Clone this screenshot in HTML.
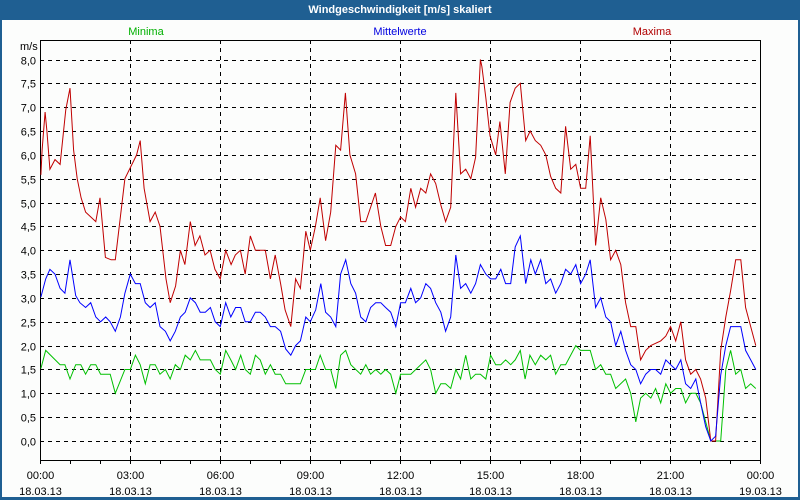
<!DOCTYPE html>
<html><head><meta charset="utf-8">
<style>
html,body{margin:0;padding:0;background:#1f5f92;}
#win{position:relative;width:800px;height:500px;background:#1f5f92;overflow:hidden;font-family:"Liberation Sans",sans-serif;}
#body{position:absolute;left:2px;top:20px;width:796px;height:477px;background:#fcfdfc;}
#title{position:absolute;left:0;top:0;width:800px;height:20px;line-height:20px;text-align:center;color:#fff;font-weight:bold;font-size:11px;}
svg{position:absolute;left:0;top:0;}
text{font-family:"Liberation Sans",sans-serif;font-size:11px;}
</style></head><body>
<div id="win">
<div id="title">Windgeschwindigkeit [m/s] skaliert</div>
<div id="body"></div>
<svg id="chart" width="800" height="500"></svg>
</div>
<script>
const yTicks=[0,0.5,1,1.5,2,2.5,3,3.5,4,4.5,5,5.5,6,6.5,7,7.5,8];
const xTickHours=[0,3,6,9,12,15,18,21,24];
const xTimeLabels=["00:00","03:00","06:00","09:00","12:00","15:00","18:00","21:00","00:00"];
const xDateLabels=["18.03.13","18.03.13","18.03.13","18.03.13","18.03.13","18.03.13","18.03.13","18.03.13","19.03.13"];

const maxT=[0.03,0.07,0.17,0.23,0.33,0.5,0.67,0.86,1.0,1.12,1.24,1.37,1.52,1.86,2.0,2.18,2.37,2.51,2.83,3.22,3.34,3.47,3.67,3.84,4.0,4.2,4.34,4.52,4.68,4.83,5.01,5.17,5.33,5.5,5.67,5.83,6.01,6.19,6.37,6.51,6.68,6.84,7.01,7.18,7.51,7.68,7.84,8.02,8.17,8.36,8.52,8.68,8.86,9.01,9.18,9.34,9.52,9.69,9.86,10.02,10.18,10.33,10.52,10.69,10.86,11.18,11.36,11.52,11.69,11.86,12.02,12.18,12.36,12.52,12.69,12.86,13.02,13.19,13.36,13.52,13.69,13.86,14.02,14.19,14.36,14.52,14.68,14.73,14.86,15.0,15.19,15.33,15.51,15.67,15.84,16.01,16.19,16.34,16.51,16.69,16.86,17.02,17.19,17.36,17.52,17.69,17.86,18.02,18.19,18.34,18.52,18.69,18.86,19.02,19.19,19.36,19.52,19.69,19.86,20.02,20.19,20.36,20.69,20.86,21.02,21.19,21.36,21.52,21.69,21.86,22.02,22.19,22.36,22.52,22.69,22.86,23.02,23.19,23.36,23.52,23.69,23.86];
const maxV=[5.58,6.1,6.9,6.5,5.7,5.9,5.8,6.95,7.4,6.1,5.5,5.1,4.8,4.6,5.1,3.85,3.8,3.8,5.5,6.0,6.3,5.3,4.6,4.8,4.5,3.4,2.9,3.25,4.0,3.7,4.6,4.1,4.3,3.9,4.0,3.6,3.4,4.0,3.7,3.9,4.0,3.5,4.3,4.0,4.0,3.4,3.9,3.3,2.75,2.4,3.4,3.2,4.4,4.0,4.5,5.1,4.2,4.8,6.2,6.1,7.3,6.0,5.6,4.6,4.6,5.2,4.5,4.1,4.1,4.5,4.7,4.6,5.3,4.9,5.3,5.2,5.6,5.4,4.95,4.6,4.9,7.3,5.6,5.7,5.5,5.95,8.0,7.85,7.2,6.4,6.0,6.7,5.6,7.1,7.4,7.5,6.3,6.5,6.3,6.2,6.0,5.55,5.3,5.2,6.6,5.7,5.8,5.3,5.3,6.4,4.1,5.1,4.65,3.8,4.0,3.7,2.9,2.4,2.4,1.7,1.9,2.0,2.1,2.2,2.4,2.1,2.5,1.7,1.4,1.5,1.3,0.9,0,0,1.9,2.6,3.15,3.8,3.8,2.8,2.4,2.0];

const meanT=[0.03,0.19,0.33,0.5,0.67,0.83,1.0,1.19,1.33,1.52,1.69,1.86,2.02,2.19,2.34,2.51,2.68,2.83,3.01,3.18,3.34,3.51,3.67,3.84,4.0,4.18,4.34,4.51,4.68,4.84,5.01,5.18,5.34,5.51,5.68,5.84,6.01,6.19,6.36,6.52,6.69,6.84,7.01,7.18,7.34,7.51,7.68,7.84,8.02,8.19,8.36,8.52,8.68,8.86,9.01,9.19,9.36,9.52,9.69,9.86,10.02,10.19,10.36,10.52,10.69,10.86,11.02,11.19,11.36,11.52,11.69,11.86,12.02,12.18,12.36,12.52,12.69,12.86,13.02,13.19,13.36,13.52,13.69,13.86,14.02,14.19,14.36,14.52,14.68,14.86,15.02,15.19,15.36,15.52,15.69,15.84,16.01,16.19,16.36,16.51,16.69,16.86,17.02,17.19,17.36,17.52,17.69,17.86,18.02,18.19,18.34,18.52,18.69,18.86,19.02,19.19,19.36,19.52,19.69,19.86,20.02,20.19,20.36,20.52,20.69,20.86,21.02,21.19,21.36,21.52,21.69,21.86,22.02,22.19,22.36,22.52,22.69,22.86,23.02,23.36,23.52,23.69,23.86];
const meanV=[3.02,3.4,3.6,3.5,3.2,3.1,3.8,3.05,2.9,2.8,2.9,2.6,2.5,2.6,2.5,2.3,2.6,3.1,3.5,3.3,3.3,2.9,2.8,2.9,2.4,2.3,2.1,2.3,2.6,2.7,3.0,2.9,2.7,2.7,2.8,2.5,2.4,2.9,2.6,2.8,2.8,2.5,2.5,2.7,2.7,2.6,2.4,2.4,2.3,1.93,1.8,2.0,2.1,2.6,2.5,2.75,3.3,2.7,2.6,2.4,3.5,3.8,3.3,3.1,2.6,2.5,2.8,2.9,2.9,2.8,2.7,2.4,2.9,2.9,3.2,2.9,3.0,3.3,3.2,2.9,2.7,2.3,2.6,3.9,3.2,3.3,3.1,3.3,3.7,3.5,3.4,3.4,3.6,3.3,3.3,4.07,4.3,3.3,3.8,3.5,3.8,3.3,3.4,3.1,3.3,3.6,3.5,3.7,3.3,3.5,3.8,2.8,3.0,2.6,2.5,2.0,2.3,1.9,1.6,1.5,1.2,1.4,1.5,1.5,1.4,1.7,1.6,1.5,1.7,1.2,1.1,1.3,0.8,0.3,0,0.1,1.38,2.0,2.4,2.4,1.9,1.7,1.5];

const minT=[0.03,0.19,0.67,0.83,1.0,1.19,1.36,1.52,1.69,1.86,2.02,2.34,2.51,2.83,3.01,3.18,3.34,3.51,3.67,3.84,4.0,4.18,4.34,4.51,4.68,4.84,5.01,5.18,5.34,5.68,5.84,6.01,6.19,6.36,6.52,6.69,6.84,7.01,7.18,7.34,7.51,7.68,7.84,8.02,8.19,8.68,8.86,9.18,9.34,9.52,9.69,9.86,10.02,10.19,10.36,10.69,10.86,11.02,11.19,11.36,11.52,11.69,11.86,12.02,12.36,12.86,13.02,13.19,13.36,13.52,13.69,13.86,14.02,14.19,14.36,14.52,14.68,14.86,15.02,15.19,15.36,15.52,15.69,15.84,16.01,16.17,16.33,16.51,16.69,16.86,17.02,17.19,17.36,17.52,17.86,18.02,18.34,18.52,18.69,18.86,19.02,19.19,19.52,19.69,19.86,20.02,20.19,20.36,20.52,20.69,20.86,21.02,21.19,21.36,21.52,21.69,21.86,22.02,22.19,22.36,22.69,22.86,23.02,23.19,23.36,23.52,23.69,23.86];
const minV=[1.52,1.9,1.6,1.6,1.3,1.6,1.6,1.4,1.6,1.6,1.4,1.4,1.0,1.5,1.5,1.8,1.6,1.2,1.6,1.6,1.4,1.5,1.3,1.6,1.5,1.8,1.7,1.9,1.7,1.7,1.5,1.4,1.9,1.7,1.5,1.8,1.5,1.4,1.8,1.7,1.4,1.6,1.4,1.4,1.2,1.2,1.5,1.5,1.8,1.5,1.5,1.1,1.8,1.9,1.6,1.4,1.6,1.4,1.5,1.4,1.5,1.4,1.0,1.4,1.4,1.7,1.5,1.0,1.2,1.2,1.1,1.5,1.3,1.8,1.3,1.4,1.4,1.3,1.8,1.6,1.6,1.7,1.6,1.7,1.9,1.3,1.8,1.6,1.8,1.7,1.8,1.4,1.6,1.6,2.0,1.9,1.9,1.5,1.6,1.4,1.4,1.1,1.3,1.0,0.4,0.9,1.0,0.9,1.1,0.8,1.2,1.0,1.1,1.1,0.8,1.0,1.0,0.8,0.4,0,0,1.5,1.9,1.4,1.5,1.1,1.2,1.1];

const NS='http://www.w3.org/2000/svg';
const svg=document.getElementById('chart');
const L=40,R=760,T=40,B=460,Y0=441,Y8=59.5;
function xs(h){return L+(R-L)*h/24;}
function ys(v){return Y0-(Y0-Y8)*v/8;}
function mk(tag,attrs,parent){const e=document.createElementNS(NS,tag);for(const k in attrs)e.setAttribute(k,attrs[k]);(parent||svg).appendChild(e);return e;}

// grid
const grid=mk('g',{});


yTicks.forEach((v,i)=>{
  const y=Math.round(ys(v))+0.5;
  const ln=mk('line',{x1:L,x2:R,y1:y,y2:y,stroke:'#000','stroke-width':1,'stroke-dasharray':'4,4'},grid);
  
  
  const tx=mk('text',{x:36,y:y+4,'text-anchor':'end',fill:'#000'});
  tx.textContent=v.toFixed(1).replace('.',',');
  
  
});
xTickHours.forEach((h,i)=>{
  const x=Math.round(xs(h))+0.5;
  if(h>0&&h<24){
    const ln=mk('line',{x1:x,x2:x,y1:T,y2:B,stroke:'#000','stroke-width':1,'stroke-dasharray':'4,4'},grid);
    
    
  }
  const t1=mk('text',{x:x,y:479,'text-anchor':'middle',fill:'#000'});
  t1.textContent=xTimeLabels[i];
  
  
  const t2=mk('text',{x:x,y:495,'text-anchor':'middle',fill:'#000'});
  t2.textContent=xDateLabels[i];
  
  
});
for(let h=0;h<=24;h++){
  const x=Math.round(xs(h))+0.5;
  const tk=mk('line',{x1:x,x2:x,y1:B,y2:B+4,stroke:'#000','stroke-width':1});
  
  
}
const frame=mk('rect',{x:L+0.5,y:T+0.5,width:R-L,height:B-T,fill:'none',stroke:'#000','stroke-width':1});



function series(ts,vs,color,name){
  const pts=ts.map((t,i)=>xs(t).toFixed(1)+','+ys(vs[i]).toFixed(1)).join(' ');
  const p=mk('polyline',{points:pts,fill:'none',stroke:color,'stroke-width':1});
  
  
}
series(minT,minV,'#00c000','series-minima');
series(maxT,maxV,'#c00000','series-maxima');
series(meanT,meanV,'#0000ff','series-mittelwerte');

function label(x,y,txt,color,name,anchor){
  const t=mk('text',{x:x,y:y,'text-anchor':anchor||'middle',fill:color});
  t.textContent=txt;
  
  
}
label(146,35,'Minima','#00b000','legend-minima');
label(400,35,'Mittelwerte','#0000e0','legend-mittelwerte');
label(652,35,'Maxima','#b00000','legend-maxima');
label(20,50,'m/s','#000','y-axis-unit','start');
</script>
</body></html>
